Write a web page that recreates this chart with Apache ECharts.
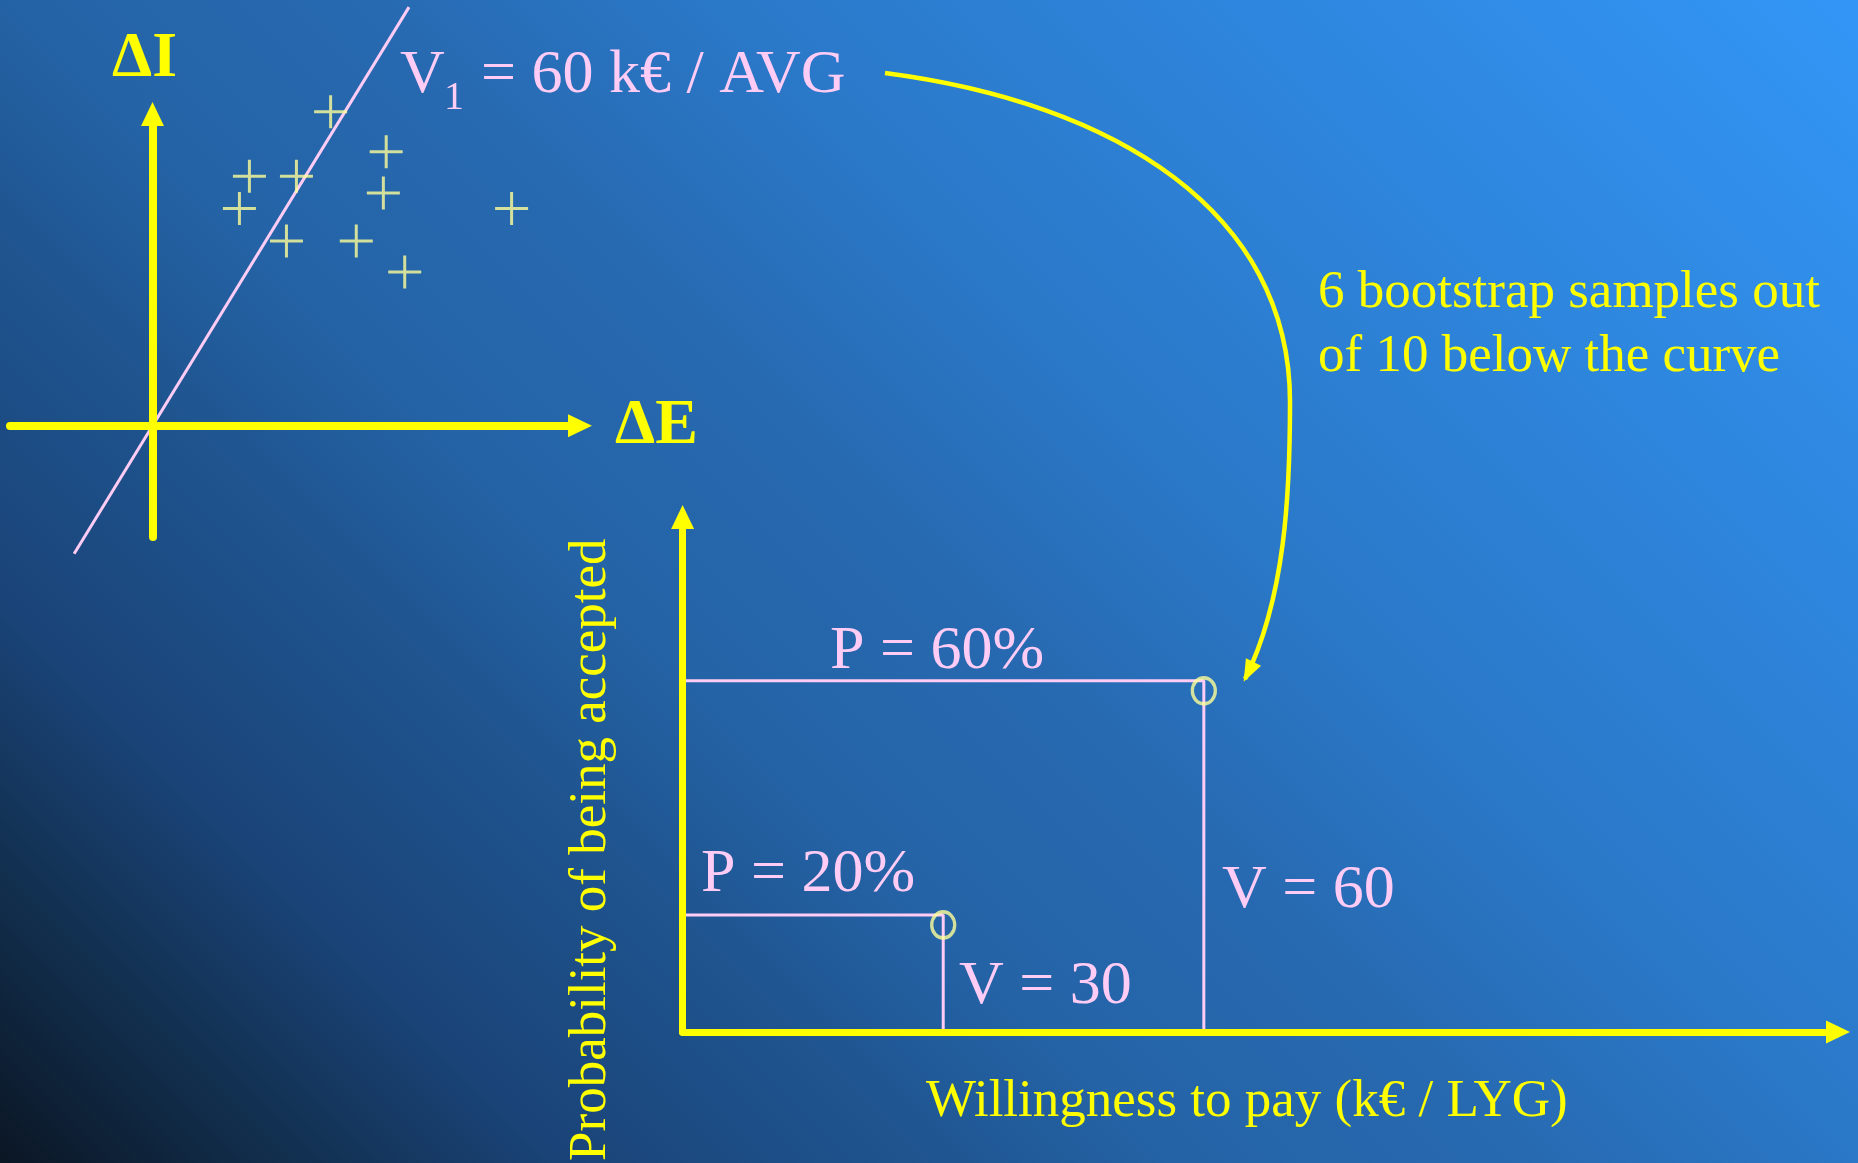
<!DOCTYPE html>
<html><head><meta charset="utf-8">
<script src="https://cdn.jsdelivr.net/npm/echarts@6/dist/echarts.min.js"></script>
<style>html,body{margin:0;padding:0;overflow:hidden;background:#1d4f88}#c{width:1858px;height:1163px}</style>
</head><body><div id="c"></div>
<script>
// ---- Top-left: cost-effectiveness plane (ΔE, ΔI) ----
const planeSamples = [[1.25,2.82],[1.64,2.46],[0.68,2.24],[1.01,2.24],[1.62,2.09],
                      [0.61,1.95],[2.52,1.95],[0.94,1.66],[1.43,1.66],[1.77,1.38]];
const thresholdLine = [[-0.55,-1.15],[1.80,3.76]];
const planeXRange = [-1, 3];
const planeYRange = [-1, 2.8];
// ---- Bottom: acceptability (WTP vs probability) ----
const wtpValues = [30, 60];
const probValues = [20, 60];
const wtpRange = [0, 133];
const probRange = [0, 88];
// curved annotation arrow: two cubic Béziers (start, cp, cp, join, cp, cp, tip), in WTP / probability units
const arrowPath = [[23.30,163.88],[49.89,158.75],[69.92,140.12],[69.92,107.66],
                   [69.92,92.28],[69.40,74.16],[64.74,60.32]];
// ---- texts ----
const labelV1 = ['V', '1', '= 60 k\u20ac / AVG'];
const noteLines = ['6 bootstrap samples out', 'of 10 below the curve'];
const pLabels = ['P = 20%', 'P = 60%'];
const vLabels = ['V = 30', 'V = 60'];
const xTitle = 'Willingness to pay (k\u20ac / LYG)';
const yTitle = 'Probability of being accepted';

const YEL = '#ffff00', PALE = '#ffff99', PINK = '#ffccf5';
const SERIF = '"Liberation Serif","Times New Roman",serif';

const chart = echarts.init(document.getElementById('c'), null, {renderer:'canvas'});

function axisBase(extra){
  return Object.assign({
    type:'value', axisTick:{show:false}, axisLabel:{show:false}, splitLine:{show:false}
  }, extra);
}
function txt(text, x, y, fs, color, opts){
  return Object.assign({
    type:'text', x:x, y:y, z:50,
    style:Object.assign({text:text, fill:color, font:(opts&&opts.bold?'bold ':'')+fs+'px '+SERIF,
      align:'left', verticalAlign:'middle'}, opts&&opts.style||{})
  }, opts&&opts.el||{});
}

const bgGrad = new echarts.graphic.LinearGradient(0, 1163, 1510.5, -347.5, [
  {offset:0, color:'#0b1624'},
  {offset:0.10, color:'#123050'},
  {offset:0.19, color:'#1a4479'},
  {offset:0.31, color:'#1f5590'},
  {offset:0.39, color:'#2463a6'},
  {offset:0.50, color:'#2769b0'},
  {offset:0.62, color:'#2a78c8'},
  {offset:1, color:'#3396f6'}
], true);

const n = wtpValues.length;
const stepSeries = [];
for (let i=0;i<n;i++){
  stepSeries.push({
    type:'line', xAxisIndex:1, yAxisIndex:1, symbol:'none', clip:false, z:1,
    lineStyle:{color:PINK, width:3},
    data:[[0,probValues[i]],[wtpValues[i],probValues[i]],[wtpValues[i],0]]
  });
}

function renderArrow(params, api){
  if (params.dataIndex !== 0) return;
  const p = [];
  for (let i=0;i<arrowPath.length;i++) p.push(api.coord([api.value(0,i), api.value(1,i)]));
  let dx = p[6][0]-p[5][0], dy = p[6][1]-p[5][1];
  const L = Math.hypot(dx,dy); dx/=L; dy/=L;
  const tip = [p[6][0]+dx*3, p[6][1]+dy*3];
  const base = [tip[0]-dx*22, tip[1]-dy*22];
  const nx = -dy, ny = dx;
  const ls = {stroke:YEL, lineWidth:4.5, fill:'none'};
  return {type:'group', children:[
    {type:'bezierCurve', shape:{x1:p[0][0],y1:p[0][1],cpx1:p[1][0],cpy1:p[1][1],cpx2:p[2][0],cpy2:p[2][1],x2:p[3][0],y2:p[3][1]}, style:ls},
    {type:'bezierCurve', shape:{x1:p[3][0],y1:p[3][1],cpx1:p[4][0],cpy1:p[4][1],cpx2:p[5][0],cpy2:p[5][1],x2:p[6][0],y2:p[6][1]}, style:ls},
    {type:'polygon', shape:{points:[tip,[base[0]+nx*8.5,base[1]+ny*8.5],[base[0]-nx*8.5,base[1]-ny*8.5]]}, style:{fill:YEL}}
  ]};
}

const option = {
  animation:false,
  backgroundColor:'transparent',
  grid:[
    {left:10, top:114, width:570, height:423},
    {left:682.6, top:517, width:1155.4, height:515}
  ],
  xAxis:[
    axisBase({gridIndex:0, min:planeXRange[0], max:planeXRange[1], z:3,
      axisLine:{onZero:true, symbol:['none','triangle'], symbolSize:[23,24], lineStyle:{color:YEL, width:8}}}),
    axisBase({gridIndex:1, min:wtpRange[0], max:wtpRange[1], z:3,
      axisLine:{onZero:true, symbol:['none','triangle'], symbolSize:[23,24], lineStyle:{color:YEL, width:7}}})
  ],
  yAxis:[
    axisBase({gridIndex:0, min:planeYRange[0], max:planeYRange[1], z:3,
      axisLine:{onZero:true, symbol:['none','triangle'], symbolSize:[23,24], lineStyle:{color:YEL, width:8}}}),
    axisBase({gridIndex:1, min:probRange[0], max:probRange[1], z:3,
      axisLine:{onZero:true, symbol:['none','triangle'], symbolSize:[23,24], lineStyle:{color:YEL, width:7}}})
  ],
  series:[
    {type:'line', xAxisIndex:0, yAxisIndex:0, symbol:'none', clip:false, z:2,
      lineStyle:{color:PINK, width:3}, data:thresholdLine},
    {type:'scatter', xAxisIndex:0, yAxisIndex:0, clip:false, z:4,
      symbol:'path://M10,0 L10,20 M0,10 L20,10', symbolSize:33, symbolKeepAspect:true,
      itemStyle:{color:'none', borderColor:PALE, borderWidth:3}, data:planeSamples},
    ...stepSeries,
    {type:'scatter', xAxisIndex:1, yAxisIndex:1, clip:false, z:5,
      symbol:'circle', symbolSize:[23,26], symbolOffset:[0,10],
      itemStyle:{color:'rgba(0,0,0,0)', borderColor:PALE, borderWidth:3.5},
      data:wtpValues.map((v,i)=>[v, probValues[i]])},
    {type:'custom', xAxisIndex:1, yAxisIndex:1, clip:false, z:6,
      renderItem:renderArrow, data:arrowPath}
  ],
  graphic:[
    {type:'rect', z:-100, silent:true, shape:{x:0,y:0,width:1858,height:1163}, style:{fill:bgGrad}},
    txt('\u0394I', 112, 59, 64, YEL, {bold:true}),
    txt('\u0394E', 615, 426.5, 64, YEL, {bold:true}),
    txt(labelV1[0], 400, 75.8, 62, PINK),
    txt(labelV1[1], 444, 98.2, 40, PINK),
    txt(labelV1[2], 481, 75.8, 62, PINK),
    txt(noteLines[0], 1318, 293.3, 53, YEL),
    txt(noteLines[1], 1318, 357.3, 53, YEL),
    txt(pLabels[1], 830, 651.6, 62, PINK),
    txt(pLabels[0], 701, 875.1, 62, PINK),
    txt(vLabels[0], 959, 987.1, 62, PINK),
    txt(vLabels[1], 1222, 891.1, 62, PINK),
    txt(xTitle, 926, 1102.1, 53, YEL),
    txt(yTitle, 591, 849.7, 53, YEL, {style:{align:'center'}, el:{rotation:Math.PI/2}})
  ]
};
chart.setOption(option);
</script>
</body></html>
